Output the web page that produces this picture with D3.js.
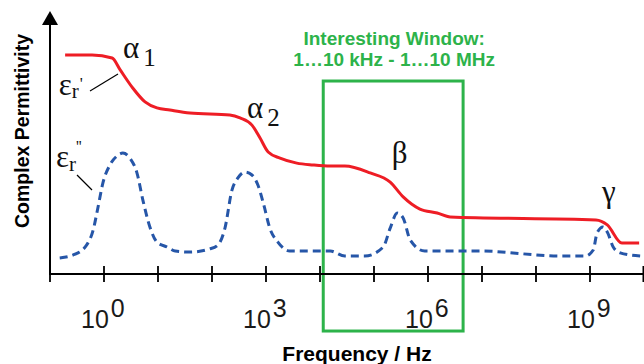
<!DOCTYPE html>
<html>
<head>
<meta charset="utf-8">
<script src="https://cdn.jsdelivr.net/npm/d3@7"></script>
<style>
  html, body { margin: 0; padding: 0; background: #fff; }
  svg { display: block; }
</style>
</head>
<body>
<svg id="chart" width="644" height="364"></svg>
<script>
// Dielectric spectrum sketch: real part (εr') and loss (εr'') vs. log10 frequency.
// Values are in arbitrary units; x is log10(f / Hz).
const realLogF = [-0.72, -0.22, 0.15, 0.30, 0.52, 0.76, 0.98, 1.22, 1.59, 2.33, 2.52, 2.74, 2.89, 3.04, 3.26, 3.57, 3.87, 4.19, 4.46, 4.93, 5.30, 5.54, 5.85, 6.17, 6.41, 9.11, 9.32, 9.59, 9.91];
const realVals = [83.0, 83.0, 81.8, 77.3, 70.8, 65.2, 62.9, 62.1, 61.0, 60.2, 59.1, 56.4, 51.5, 46.2, 43.9, 42.0, 41.3, 40.9, 40.9, 38.3, 34.8, 29.2, 24.6, 23.1, 21.6, 20.5, 18.6, 11.7, 11.7];

const lossLogF = [-0.82, -0.57, -0.32, -0.20, -0.11, -0.02, 0.11, 0.24, 0.35, 0.48, 0.61, 0.72, 0.85, 0.98, 1.17, 1.32, 1.59, 1.96, 2.11, 2.24, 2.37, 2.48, 2.61, 2.74, 2.85, 2.96, 3.07, 3.22, 3.44, 4.19, 4.46, 4.83, 5.17, 5.30, 5.43, 5.54, 5.67, 5.94, 6.96, 8.44, 8.91, 9.06, 9.13, 9.24, 9.33, 9.43, 9.56, 9.93];
const lossVals = [6.1, 7.2, 11.0, 16.7, 25.4, 34.5, 41.3, 44.7, 45.8, 43.9, 38.3, 28.0, 17.8, 12.1, 10.2, 8.7, 8.3, 9.5, 11.0, 17.4, 31.8, 36.4, 38.6, 37.5, 33.7, 26.1, 17.4, 12.1, 8.7, 8.7, 6.8, 6.8, 10.2, 17.4, 23.1, 21.2, 12.9, 8.7, 8.7, 6.8, 6.8, 9.1, 15.5, 17.8, 15.5, 10.2, 8.0, 6.8];

// Decade ticks and which of them carry a "10^n" label
const tickExponents = [-1, 0, 1, 2, 3, 4, 5, 6, 7, 8, 9, 10];
const labelExponents = [0, 3, 6, 9];

// Frequency window of interest (log10 Hz) and its vertical extent (value units)
const windowLogF = [4.06, 6.65];
const windowVals = [73.1, -21.6];
const windowTitle = ["Interesting Window:", "1…10 kHz - 1…10 MHz"];

// Relaxation labels: [symbol, subscript, log10 f, value]
const relaxLabels = [
  ["α", "1", 0.35, 81.8],
  ["α", "2", 2.65, 59.1],
  ["β", "", 5.33, 42.0],
  ["γ", "", 9.22, 27.3]
];

const svg = d3.select("#chart");

const x = d3.scaleLinear().domain([-1, 10]).range([50, 644]);
const y = d3.scaleLinear().domain([0, 100]).range([274, 10]);

const red = "#ee1d25", blue = "#2656a8", green = "#2db34a";
const sans = "'Liberation Sans', Arial, sans-serif";
const serif = "'Liberation Serif', 'Times New Roman', serif";

// Window box
svg.append("rect")
  .attr("x", x(windowLogF[0]))
  .attr("y", y(windowVals[0]))
  .attr("width", x(windowLogF[1]) - x(windowLogF[0]))
  .attr("height", y(windowVals[1]) - y(windowVals[0]))
  .attr("fill", "none")
  .attr("stroke", green)
  .attr("stroke-width", 3);

const wcx = (x(windowLogF[0]) + x(windowLogF[1])) / 2;
svg.selectAll("text.wtitle").data(windowTitle).join("text")
  .attr("class", "wtitle")
  .attr("x", wcx + 1)
  .attr("y", (d, i) => 45 + i * 21)
  .attr("text-anchor", "middle")
  .attr("font-family", sans)
  .attr("font-weight", "bold")
  .attr("font-size", 19)
  .attr("fill", green)
  .text(d => d);

// Curves
const curveLine = d3.line()
  .x(d => x(d[0])).y(d => y(d[1]))
  .curve(d3.curveMonotoneX);

svg.append("path")
  .datum(d3.zip(lossLogF, lossVals))
  .attr("d", curveLine)
  .attr("fill", "none")
  .attr("stroke", blue)
  .attr("stroke-width", 3)
  .attr("stroke-dasharray", "8,5");

svg.append("path")
  .datum(d3.zip(realLogF, realVals))
  .attr("d", curveLine)
  .attr("fill", "none")
  .attr("stroke", red)
  .attr("stroke-width", 3)
  .attr("stroke-linejoin", "round");

// Axes
const xAxisY = y(0);
svg.append("line")
  .attr("x1", x(-1)).attr("x2", x(10))
  .attr("y1", xAxisY).attr("y2", xAxisY)
  .attr("stroke", "#000").attr("stroke-width", 2.2);

svg.selectAll("line.tick").data(tickExponents).join("line")
  .attr("class", "tick")
  .attr("x1", d => x(d)).attr("x2", d => x(d))
  .attr("y1", d => d === -1 ? xAxisY : xAxisY - 8)
  .attr("y2", xAxisY + 8)
  .attr("stroke", "#000")
  .attr("stroke-width", d => d === 10 ? 3 : 1.8);

const tickText = svg.selectAll("text.tl").data(labelExponents).join("text")
  .attr("class", "tl")
  .attr("x", d => x(d) - 23)
  .attr("y", 328)
  .attr("font-family", sans)
  .attr("font-size", 25)
  .attr("fill", "#1a1a1a");
tickText.append("tspan").text("10");
tickText.append("tspan").attr("dx", 2).attr("dy", -11).text(d => d);

// Y axis with arrow head
svg.append("line")
  .attr("x1", x(-1)).attr("x2", x(-1))
  .attr("y1", xAxisY + 1).attr("y2", 22)
  .attr("stroke", "#000").attr("stroke-width", 2);
svg.append("path")
  .attr("d", d3.line()([[x(-1) - 8, 25], [x(-1), 11], [x(-1) + 8, 25]]) + "Z")
  .attr("fill", "#000");

// Axis titles
svg.append("text")
  .attr("transform", "translate(29,131) rotate(-90)")
  .attr("text-anchor", "middle")
  .attr("font-family", sans)
  .attr("font-weight", "bold")
  .attr("font-size", 19.5)
  .text("Complex Permittivity");

svg.append("text")
  .attr("x", 357).attr("y", 361)
  .attr("text-anchor", "middle")
  .attr("font-family", sans)
  .attr("font-weight", "bold")
  .attr("font-size", 21)
  .text("Frequency / Hz");

// Relaxation labels
const rl = svg.selectAll("text.rl").data(relaxLabels).join("text")
  .attr("class", "rl")
  .attr("x", d => x(d[2])).attr("y", d => y(d[3]))
  .attr("font-family", serif)
  .attr("font-size", 31)
  .attr("fill", "#111");
rl.append("tspan").text(d => d[0]);
rl.append("tspan").attr("dx", 4).attr("dy", 8).attr("font-size", 25).text(d => d[1]);

// εr' and εr'' labels with leader lines
const epsReal = svg.append("text")
  .attr("x", x(-0.84)).attr("y", y(67.8))
  .attr("font-family", serif).attr("font-size", 31).attr("fill", "#111");
epsReal.append("tspan").text("ε");
epsReal.append("tspan").attr("dy", 3).attr("font-size", 21).text("r");
epsReal.append("tspan").attr("dx", 1).attr("dy", -9).attr("font-size", 17).text("'");

const epsLoss = svg.append("text")
  .attr("x", x(-0.89)).attr("y", y(40.5))
  .attr("font-family", serif).attr("font-size", 31).attr("fill", "#111");
epsLoss.append("tspan").text("ε");
epsLoss.append("tspan").attr("dy", 4).attr("font-size", 21).text("r");
epsLoss.append("tspan").attr("dx", 0).attr("dy", -19).attr("font-size", 16).text("''");

svg.append("line")
  .attr("x1", 90).attr("y1", 91).attr("x2", 118).attr("y2", 74)
  .attr("stroke", "#000").attr("stroke-width", 1.2);
svg.append("line")
  .attr("x1", 77).attr("y1", 175).attr("x2", 92).attr("y2", 190)
  .attr("stroke", "#000").attr("stroke-width", 1.2);
</script>
</body>
</html>
